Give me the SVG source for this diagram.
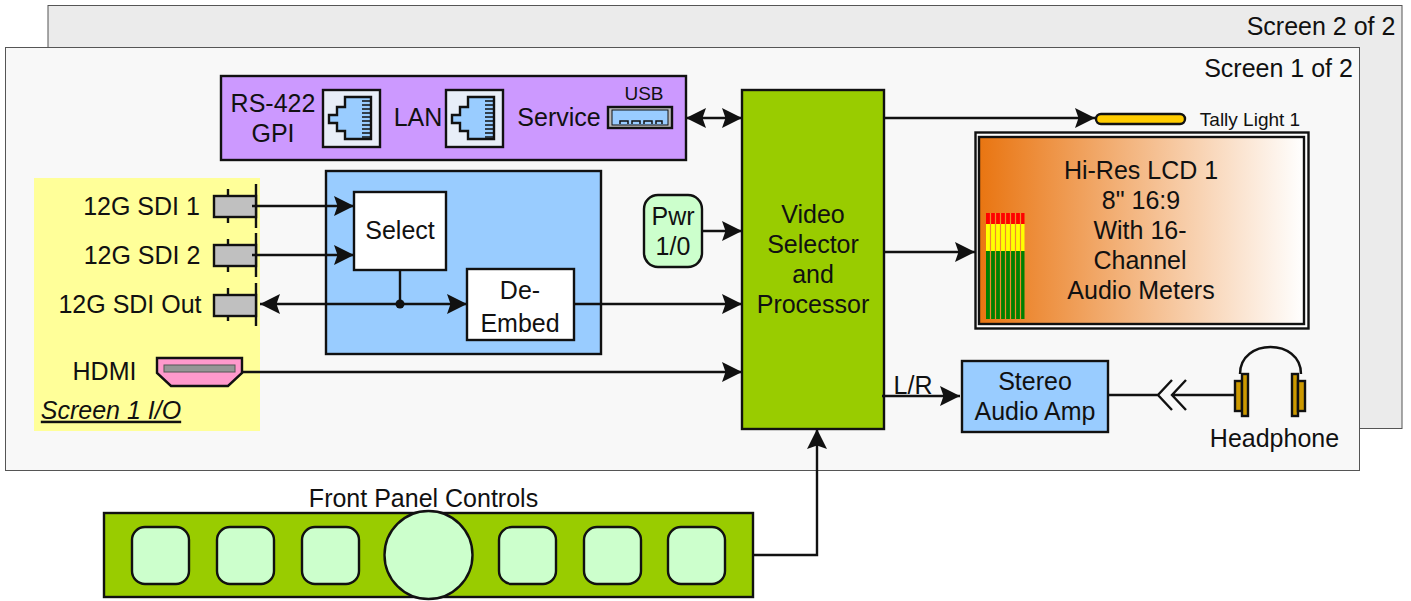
<svg xmlns="http://www.w3.org/2000/svg" width="1411" height="601" viewBox="0 0 1411 601">
<style>
text{font-family:"Liberation Sans",Arial,sans-serif;font-size:25px;fill:#111;text-anchor:middle;transform:translateY(.7px)}
text.sm{font-size:19px}
.box{stroke:#111;stroke-width:2.400}
.wire{fill:none;stroke:#111;stroke-width:2.400}
.arr{marker-end:url(#a)}
.jack{fill:#e8eef8;stroke:#111;stroke-width:2.400}
.rj{fill:#99ccff;stroke:#111;stroke-width:2.400}
.ctl{fill:#ccffcc;stroke:#111;stroke-width:2.400}
.bnc{fill:#c0c0c0;stroke:#111;stroke-width:2.400}
.hp{fill:#cc9900;stroke:#111;stroke-width:2.400}
</style>
<defs>
<marker id="a" markerUnits="userSpaceOnUse" markerWidth="22" markerHeight="22" refX="20" refY="11" orient="auto-start-reverse"><path d="M0 1L20 11L0 21L3.500 11Z" fill="#111"/></marker>
<linearGradient id="lcd"><stop offset="0" stop-color="#e97511"/><stop offset="1" stop-color="#fff"/></linearGradient>
<path id="pins" d="M0 3H9M0 7H9M0 11H9M0 15H9M0 19H9M0 23H9M0 27H9M0 31H9M0 35H9M0 39H9" stroke="#111" stroke-width="1.500"/>
</defs>
<g id="screen2"><rect x="48" y="5.500" width="1354" height="423" fill="#ebebeb" stroke="#555"/><text x="1321" y="34">Screen 2 of 2</text></g>
<g id="screen1"><rect x="5.500" y="47.500" width="1354" height="423" fill="#f8f8f8" stroke="#555"/><text x="1278.500" y="76">Screen 1 of 2</text></g>
<g id="io-panel">
<rect x="34" y="178" width="226" height="253" fill="#ffff99"/>
<text x="141.500" y="214">12G SDI 1</text><text x="142" y="263">12G SDI 2</text><text x="130" y="312">12G SDI Out</text><text x="104.500" y="379">HDMI</text>
<text x="111" y="418" font-style="italic" text-decoration="underline">Screen 1 I/O</text>
<g id="sdi1"><path class="wire" d="M228 189V223M256 184V228"/><rect class="bnc" x="214" y="196" width="42" height="21"/></g>
<g id="sdi2"><path class="wire" d="M228 239V272M256 233V277"/><rect class="bnc" x="214" y="245" width="42" height="21"/></g>
<g id="sdiout"><path class="wire" d="M228 288V321M256 283V326"/><rect class="bnc" x="214" y="295" width="42" height="21"/></g>
<g id="hdmi"><path d="M157 358H242V373L228 386H171L157 373Z" fill="#ff99cc" stroke="#111" stroke-width="2.400"/><rect x="164" y="365" width="71" height="7" fill="#969696" stroke="#555"/></g>
</g>
<g id="interface-panel">
<rect class="box" x="221" y="76" width="465" height="84" fill="#cc99ff"/>
<text x="273" y="111">RS-422</text><text x="273" y="141">GPI</text><text x="418" y="125">LAN</text><text x="559" y="125">Service</text><text class="sm" x="644" y="99">USB</text>
<g id="rs422"><rect class="jack" x="323" y="90" width="57" height="57"/><path class="rj" d="M371 97H345V107H337V115H329V123H337V131H345V139H371Z"/><use href="#pins" x="362" y="98"/></g>
<g id="lan"><rect class="jack" x="446" y="90" width="57" height="57"/><path class="rj" d="M494 97H468V107H460V115H452V123H460V131H468V139H494Z"/><use href="#pins" x="485" y="98"/></g>
<g id="usb"><rect x="608" y="107" width="64" height="21" fill="#bbb" stroke="#111" stroke-width="2.400"/><rect x="612" y="110" width="56" height="15" fill="#99ccff" stroke="#111"/><path d="M620 124V121H628V124M632 124V121H640V124M644 124V121H652V124M656 124V121H662V124" fill="none" stroke="#111" stroke-width="1.500"/></g>
</g>
<g id="dsp-block"><rect class="box" x="326" y="171" width="275" height="183" fill="#99ccff"/></g>
<g id="select"><rect class="box" x="354" y="192" width="92" height="78" fill="#fff"/><text x="400" y="238">Select</text></g>
<g id="deembed"><rect class="box" x="467" y="269" width="107" height="71" fill="#fff"/><text x="520" y="298">De-</text><text x="520" y="331">Embed</text></g>
<g id="pwr"><rect x="644" y="195" width="58" height="72" rx="14" fill="#ccffcc" stroke="#111" stroke-width="2.400"/><text x="673" y="224">Pwr</text><text x="673" y="254">1/0</text></g>
<g id="processor"><rect class="box" x="742" y="90" width="142" height="339" fill="#99cc00"/><text x="813" y="222">Video</text><text x="813" y="252">Selector</text><text x="813" y="282">and</text><text x="813" y="312">Processor</text></g>
<g id="tally"><rect x="1096" y="114" width="89" height="10" rx="5" fill="#ffcc00" stroke="#111" stroke-width="2.400"/><text class="sm" x="1250" y="125">Tally Light 1</text></g>
<g id="lcd-display">
<rect x="975.500" y="132.500" width="333" height="196" fill="#fff" stroke="#111" stroke-width="2.400"/>
<rect x="979" y="137" width="325" height="187" fill="url(#lcd)" stroke="#111" stroke-width="2.400"/>
<path d="M986 213H1024.500V224H986Z" fill="#f00"/><path d="M986 224H1024.500V251H986Z" fill="#ff0"/><path d="M986 251H1024.500V319H986Z" fill="#008000"/>
<path d="M990.500 213V319M995.500 213V319M1000.500 213V319M1005.500 213V319M1010.500 213V319M1015.500 213V319M1020.500 213V319" stroke="#ef8a2c" stroke-width="1.200"/>
<text x="1141" y="178">Hi-Res LCD 1</text><text x="1141" y="208">8" 16:9</text><text x="1140" y="238">With 16-</text><text x="1140" y="268">Channel</text><text x="1141" y="298">Audio Meters</text>
</g>
<g id="amp"><rect class="box" x="962" y="361" width="146" height="71" fill="#99ccff"/><text x="1035" y="389">Stereo</text><text x="1035" y="419">Audio Amp</text></g>
<g id="headphone">
<path d="M1240 374C1240 338 1301 338 1301 374" fill="none" stroke="#111" stroke-width="2.400"/>
<rect class="hp" x="1235" y="381" width="7" height="30"/><rect class="hp" x="1242" y="374" width="6" height="42"/><rect class="hp" x="1292" y="374" width="6" height="42"/><rect class="hp" x="1298" y="381" width="7" height="30"/>
<text x="1274.500" y="446">Headphone</text>
</g>
<g id="front-panel">
<text x="423.500" y="506">Front Panel Controls</text>
<rect class="box" x="104" y="513" width="649" height="84" fill="#99cc00"/>
<rect class="ctl" x="132" y="527" width="57" height="57" rx="13"/><rect class="ctl" x="217" y="527" width="57" height="57" rx="13"/><rect class="ctl" x="302" y="527" width="57" height="57" rx="13"/>
<circle class="ctl" cx="428.500" cy="555" r="44"/>
<rect class="ctl" x="499" y="527" width="57" height="57" rx="13"/><rect class="ctl" x="584" y="527" width="57" height="57" rx="13"/><rect class="ctl" x="668" y="527" width="57" height="57" rx="13"/>
</g>
<g id="connectors">
<path class="wire arr" d="M252 206H354"/>
<path class="wire arr" d="M252 255H354"/>
<path class="wire arr" d="M400 304H467"/>
<path class="wire arr" d="M400 304H260"/>
<path class="wire" d="M400 270V304"/>
<circle cx="400" cy="304" r="4.500" fill="#111"/>
<path class="wire arr" d="M574 304H742"/>
<path class="wire arr" d="M242 372H742"/>
<path class="wire arr" d="M702 231H742"/>
<path class="wire arr" style="marker-start:url(#a)" d="M686 118H742"/>
<path class="wire arr" d="M884 118H1095"/>
<path class="wire arr" d="M884 252H975"/>
<path class="wire arr" d="M882 396H960"/>
<text x="913" y="393">L/R</text>
<path class="wire" d="M1108 395H1158M1172 380L1158 395L1172 410M1186 380L1172 395L1186 410M1172 395H1235"/>
<path class="wire arr" d="M753 555H817V429"/>
</g>
</svg>
